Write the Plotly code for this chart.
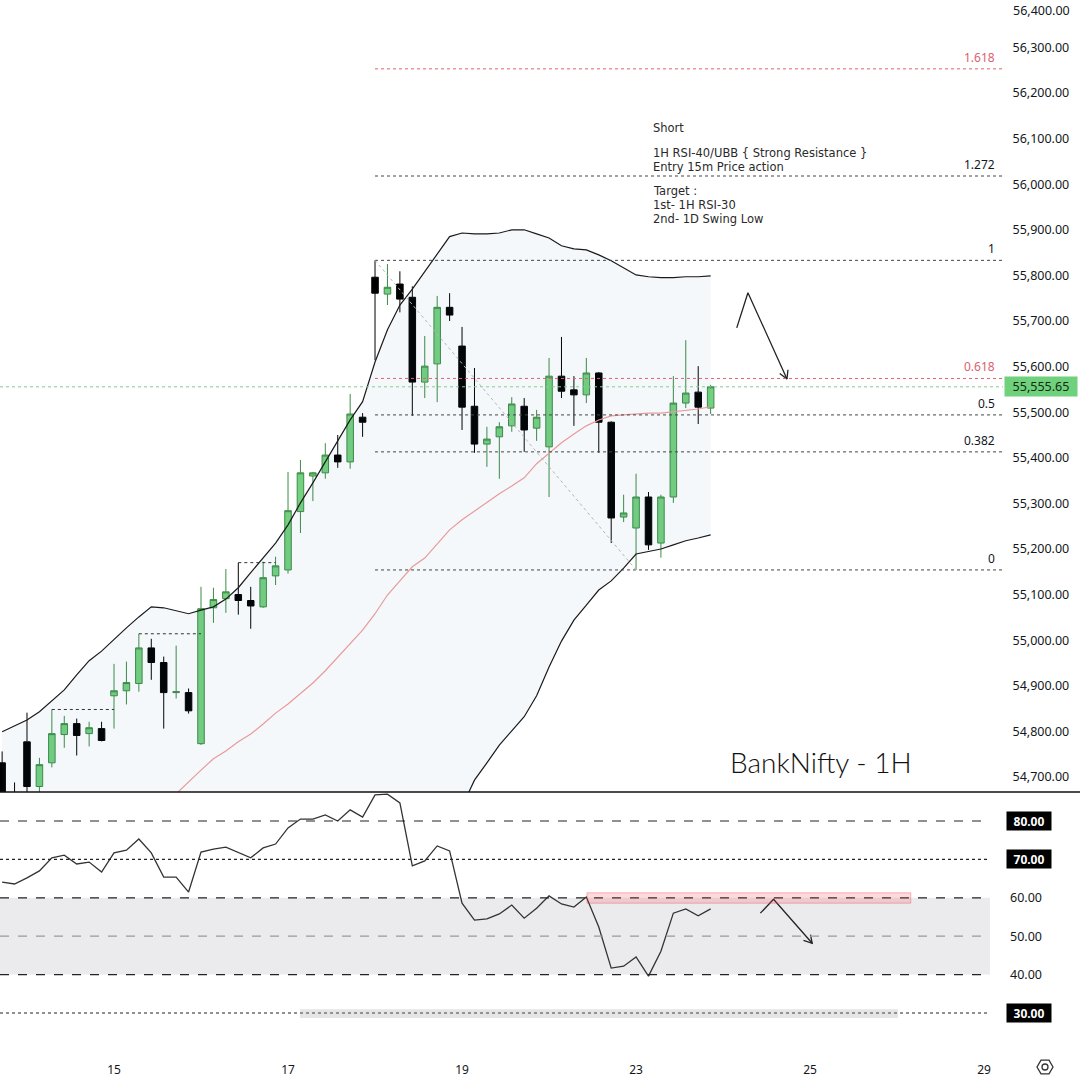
import plotly.graph_objects as go

# hourly bars, index 0 = first bar of the 15th
bars = list(range(-9, 49))
day_ticks = [0, 14, 28, 42, 56, 70]
day_labels = ["15", "17", "19", "23", "25", "29"]

opens = [54731, 54660, 54777, 54679, 54731, 54793, 54817, 54795, 54806,
         54878, 54889, 54905, 54983, 54951, 54885, 54885, 54773, 55071, 55091,
         55100, 55087, 55073, 55141, 55154, 55282, 55360, 55367, 55406, 55391,
         55489, 55796, 55759, 55781, 55752, 55566, 55606, 55730, 55645, 55513,
         55430, 55446, 55470, 55513, 55465, 55424, 55579, 55549, 55538, 55586,
         55478, 55270, 55246, 55314, 55213, 55314, 55520, 55544, 55509]
highs = [54756, 54688, 54841, 54742, 54848, 54834, 54828, 54821, 54821,
         54948, 54953, 55014, 55003, 54964, 54988, 54894, 55117, 55115, 55156,
         55170, 55117, 55172, 55183, 55369, 55395, 55369, 55432, 55450, 55540,
         55498, 55833, 55825, 55809, 55776, 55667, 55755, 55761, 55687, 55597,
         55468, 55478, 55533, 55531, 55505, 55619, 55665, 55579, 55619, 55588,
         55480, 55319, 55365, 55325, 55319, 55579, 55658, 55601, 55560]
lows = [54610, 54600, 54660, 54660, 54721, 54764, 54747, 54767, 54778,
        54806, 54859, 54887, 54913, 54806, 54872, 54839, 54770, 55038, 55060,
        55056, 55025, 55071, 55121, 55146, 55235, 55305, 55354, 55378, 55376,
        55446, 55614, 55735, 55719, 55492, 55531, 55522, 55700, 55461, 55411,
        55380, 55354, 55457, 55413, 55437, 55314, 55531, 55470, 55520, 55411,
        55213, 55259, 55154, 55198, 55181, 55301, 55509, 55474, 55496]
closes = [54640, 54630, 54679, 54727, 54795, 54817, 54791, 54808, 54780,
          54889, 54907, 54983, 54951, 54885, 54887, 54845, 55069, 55089, 55106,
          55087, 55075, 55137, 55163, 55284, 55367, 55367, 55406, 55391, 55496,
          55478, 55761, 55774, 55748, 55566, 55601, 55730, 55713, 55511, 55430,
          55441, 55468, 55518, 55461, 55489, 55579, 55546, 55538, 55586, 55478,
          55268, 55279, 55314, 55209, 55314, 55520, 55542, 55511, 55555.65]

bb_upper = [54799, 54812, 54825, 54843, 54867, 54891, 54924, 54955, 54976,
            55002, 55027, 55051, 55073, 55071, 55064, 55058, 55066, 55073, 55090,
            55115, 55148, 55180, 55213, 55253, 55301, 55345, 55391, 55439, 55483,
            55523, 55610, 55681, 55735, 55770, 55808, 55845, 55885, 55893, 55891,
            55891, 55893, 55900, 55900, 55891, 55882, 55865, 55858, 55856, 55845,
            55832, 55817, 55801, 55797, 55795, 55795, 55797, 55797, 55799]
bb_mid = [54420, 54430, 54440, 54452, 54466, 54480, 54495, 54510, 54525,
          54545, 54565, 54590, 54612, 54637, 54663, 54691, 54715, 54740, 54757,
          54777, 54794, 54816, 54840, 54860, 54882, 54906, 54933, 54963, 54994,
          55022, 55058, 55099, 55130, 55161, 55180, 55211, 55242, 55264, 55283,
          55303, 55321, 55338, 55356, 55387, 55411, 55433, 55452, 55470, 55483,
          55492, 55494, 55496, 55498, 55498, 55501, 55503, 55507, 55512]
bb_lower = [54041, 54048, 54055, 54061, 54063, 54067, 54066, 54065, 54074,
            54089, 54101, 54129, 54151, 54201, 54262, 54324, 54364, 54407, 54424,
            54439, 54440, 54452, 54467, 54467, 54463, 54467, 54475, 54487, 54505,
            54521, 54506, 54517, 54525, 54552, 54552, 54577, 54599, 54635, 54693,
            54731, 54770, 54801, 54832, 54878, 54941, 54998, 55044, 55077, 55110,
            55130, 55158, 55189, 55194, 55200, 55209, 55218, 55224, 55231]

rsi = [64.1, 63.6, 65.2, 67.0, 70.4, 71.1, 68.8, 69.3, 66.7,
       71.7, 72.4, 75.3, 71.7, 65.4, 65.4, 61.5, 71.9, 72.7, 73.2,
       71.7, 70.4, 73.0, 74.0, 78.2, 80.5, 80.5, 81.6, 80.0, 82.9,
       81.0, 86.8, 87.0, 84.7, 68.3, 69.6, 73.5, 72.2, 58.6, 54.2,
       54.5, 55.8, 58.1, 54.7, 57.3, 60.5, 58.4, 57.6, 60.2, 52.4,
       41.7, 42.2, 44.6, 39.6, 46.1, 56.0, 57.1, 55.3, 57.1]

last_price = 55555.65
price_ticks = [54700, 54800, 54900, 55000, 55100, 55200, 55300, 55400, 55500,
               55600, 55700, 55800, 55900, 56000, 56100, 56200, 56300]
top_tick = 56400

# fib retracement drawn from the 18th high to the 23rd low
fib_ratios = ["1.618", "1.272", "1", "0.618", "0.5", "0.382", "0"]
fib_prices = [56253, 56018, 55833, 55574, 55494, 55413, 55154]
fib_colors = ["#e06070", "#444444", "#444444", "#e06070", "#444444", "#444444", "#444444"]
fib_start = 21
fib_end = 42

# short dotted swing-high markers (start bar, end bar, price)
swing_marks = [(-5, 0, 54848), (2, 7, 55014), (10, 13, 55170)]

rsi_levels = [80, 70, 60, 50, 40, 30]
rsi_dash = ["dash", "dot", "dash", "dash", "dash", "dot"]
rsi_boxed = [True, True, False, False, False, True]

note_lines = ["Short", "1H RSI-40/UBB { Strong Resistance }", "Entry 15m Price action",
              "Target :", "1st- 1H RSI-30", "2nd- 1D Swing Low"]
note_rows = [128, 153, 167, 191, 205, 219]

# hand-drawn arrows (bar, value)
arrow_main = [(50.1, 55685), (51.0, 55762), (54.14, 55573)]
arrow_main_head = [(54.22, 55593), (54.14, 55573), (53.56, 55585)]
arrow_rsi = [(52.0, 56.0), (53.06, 59.6), (56.17, 48.15)]
arrow_rsi_head = [(56.03, 50.4), (56.17, 48.15), (55.47, 48.9)]

X_RANGE = [-9.171, 71.52]
SPLIT = 0.23846
TXT = "#131722"
FONT = "Noto Sans"

fig = go.Figure()

fig.add_trace(go.Scatter(x=bars, y=bb_upper, mode="lines", xaxis="x", yaxis="y2",
                         line=dict(color="#1a1a1a", width=1.2), hoverinfo="skip"))
fig.add_trace(go.Scatter(x=bars, y=bb_lower, mode="lines", xaxis="x", yaxis="y2",
                         line=dict(color="#1a1a1a", width=1.2), fill="tonexty",
                         fillcolor="rgba(60,120,180,0.05)", hoverinfo="skip"))
fig.add_trace(go.Scatter(x=bars, y=bb_mid, mode="lines", xaxis="x", yaxis="y2",
                         line=dict(color="#e89a9a", width=1.2), hoverinfo="skip"))

fig.add_trace(
    go.Candlestick(
        x=bars,
        open=opens,
        high=highs,
        low=lows,
        close=closes,
        xaxis="x",
        yaxis="y2",
        whiskerwidth=0,
        increasing=dict(line=dict(color="#3d8b46", width=1), fillcolor="#74d17f"),
        decreasing=dict(line=dict(color="#000000", width=1), fillcolor="#000000"),
        hoverinfo="skip",
    )
)

fig.add_trace(go.Scatter(x=bars, y=rsi, mode="lines", xaxis="x", yaxis="y",
                         line=dict(color="#333333", width=1.3), hoverinfo="skip"))

for pts in [arrow_main, arrow_main_head]:
    fig.add_trace(go.Scatter(x=[p[0] for p in pts], y=[p[1] for p in pts], mode="lines",
                             xaxis="x", yaxis="y2", line=dict(color="#222222", width=1.3),
                             hoverinfo="skip"))
for pts in [arrow_rsi, arrow_rsi_head]:
    fig.add_trace(go.Scatter(x=[p[0] for p in pts], y=[p[1] for p in pts], mode="lines",
                             xaxis="x", yaxis="y", line=dict(color="#222222", width=1.3),
                             hoverinfo="skip"))

shapes = []
annotations = []

# RSI panel: 40-60 band, level lines, zones
shapes.append(dict(type="rect", xref="paper", yref="y", x0=0, x1=0.987, y0=40, y1=60,
                   fillcolor="rgba(120,123,134,0.15)", line=dict(width=0), layer="below"))
for lvl, dash in zip(rsi_levels, rsi_dash):
    col = "#9a9a9a" if lvl == 50 else "#222222"
    shapes.append(dict(type="line", xref="paper", yref="y", x0=0, x1=0.987, y0=lvl, y1=lvl,
                       line=dict(color=col, width=1.2, dash=dash)))
shapes.append(dict(type="rect", xref="x", yref="y", x0=38.05, x1=64.1, y0=58.6, y1=61.3,
                   fillcolor="rgba(242,54,69,0.18)", line=dict(color="rgba(242,54,69,0.35)", width=1)))
shapes.append(dict(type="rect", xref="x", yref="y", x0=14.96, x1=63.07, y0=28.7, y1=31.0,
                   fillcolor="rgba(150,150,150,0.25)", line=dict(width=0)))

# main panel drawings
shapes.append(dict(type="line", xref="paper", yref="y2", x0=0, x1=1, y0=last_price, y1=last_price,
                   line=dict(color="#7fcf8a", width=1, dash="dot")))
for price, col in zip(fib_prices, fib_colors):
    shapes.append(dict(type="line", xref="x", yref="y2", x0=fib_start, x1=X_RANGE[1],
                       y0=price, y1=price, line=dict(color=col, width=1, dash="dot")))
shapes.append(dict(type="line", xref="x", yref="y2", x0=fib_start, x1=fib_end,
                   y0=fib_prices[2], y1=fib_prices[6],
                   line=dict(color="#b5b5b5", width=1, dash="dot")))
for x0, x1, price in swing_marks:
    shapes.append(dict(type="line", xref="x", yref="y2", x0=x0, x1=x1, y0=price, y1=price,
                       line=dict(color="#333333", width=1, dash="dot")))

# panel separator
shapes.append(dict(type="line", xref="paper", yref="paper", x0=0, x1=1.08, y0=SPLIT, y1=SPLIT,
                   line=dict(color="#111111", width=1.5)))

# settings icon
cx, cy = 1045 / 1003, 1 - 1067 / 1040
rx, ry = 8 / 1003, 8 / 1040
hexpath = (f"M {cx + rx} {cy} L {cx + rx / 2} {cy + 0.866 * ry} L {cx - rx / 2} {cy + 0.866 * ry} "
           f"L {cx - rx} {cy} L {cx - rx / 2} {cy - 0.866 * ry} L {cx + rx / 2} {cy - 0.866 * ry} Z")
shapes.append(dict(type="path", xref="paper", yref="paper", path=hexpath,
                   line=dict(color="#333333", width=1.3)))
shapes.append(dict(type="circle", xref="paper", yref="paper",
                   x0=cx - 3 / 1003, x1=cx + 3 / 1003, y0=cy - 3 / 1040, y1=cy + 3 / 1040,
                   line=dict(color="#333333", width=1.3)))

for label, price, col in zip(fib_ratios, fib_prices, fib_colors):
    annotations.append(dict(xref="paper", yref="y2", x=0.994, y=price, text=label,
                            showarrow=False, xanchor="right", yanchor="bottom", yshift=1,
                            font=dict(family=FONT, size=12, color=TXT if col == "#444444" else col)))

for line, row in zip(note_lines, note_rows):
    annotations.append(dict(xref="paper", yref="paper", x=652 / 1003, y=1 - row / 1040,
                            text=line, showarrow=False, xanchor="left", yanchor="middle",
                            borderpad=0,
                            font=dict(family="DejaVu Sans", size=11.5, color="#2a2a2a")))

annotations.append(dict(xref="paper", yref="paper", x=728 / 1003, y=1 - 762 / 1040,
                        text="BankNifty - 1H", showarrow=False, xanchor="left", yanchor="middle",
                        font=dict(family="Lato", size=28, color="#111111", weight=300)))

# top price label, kept just inside the frame
annotations.append(dict(xref="paper", yref="paper", x=1012 / 1003, y=1, yshift=-1,
                        text=f"{top_tick:,.2f}", showarrow=False, xanchor="left",
                        yanchor="top", borderpad=0,
                        font=dict(family=FONT, size=12.5, color=TXT)))

annotations.append(dict(xref="paper", yref="y2", x=1004 / 1003, y=last_price,
                        text=f"{last_price:,.2f}", showarrow=False, xanchor="left",
                        yanchor="middle", width=70, height=17, bgcolor="#6fd17c",
                        font=dict(family=FONT, size=12.5, color="#102a12")))

for lvl, boxed in zip(rsi_levels, rsi_boxed):
    if boxed:
        annotations.append(dict(xref="paper", yref="y", x=1006 / 1003, y=lvl,
                                text=f"<b>{lvl:.2f}</b>", showarrow=False, xanchor="left",
                                yanchor="middle", width=42, height=16, bgcolor="#000000",
                                font=dict(family=FONT, size=12, color="#ffffff")))
    else:
        annotations.append(dict(xref="paper", yref="y", x=1008 / 1003, y=lvl,
                                text=f"{lvl:.2f}", showarrow=False, xanchor="left",
                                yanchor="middle",
                                font=dict(family=FONT, size=12.5, color=TXT)))

fig.update_layout(
    width=1080,
    height=1080,
    margin=dict(l=0, r=77, t=0, b=40),
    paper_bgcolor="white",
    plot_bgcolor="white",
    showlegend=False,
    boxgap=0.25,
    font=dict(family=FONT, size=12, color=TXT),
    shapes=shapes,
    annotations=annotations,
    xaxis=dict(
        domain=[0, 1],
        range=X_RANGE,
        anchor="y",
        tickvals=day_ticks,
        ticktext=day_labels,
        ticks="outside",
        ticklen=19,
        tickcolor="rgba(0,0,0,0)",
        showgrid=False,
        zeroline=False,
        showline=False,
        rangeslider=dict(visible=False),
        tickfont=dict(family=FONT, size=12, color=TXT),
    ),
    yaxis=dict(
        domain=[0, SPLIT],
        range=[22.97, 87.55],
        anchor="x",
        showticklabels=False,
        showgrid=False,
        zeroline=False,
    ),
    yaxis2=dict(
        domain=[SPLIT, 1],
        range=[54667, 56404],
        anchor="x",
        side="right",
        tickvals=price_ticks,
        ticktext=[f"{p:,.2f}" for p in price_ticks],
        ticks="outside",
        ticklen=6,
        tickcolor="rgba(0,0,0,0)",
        showgrid=False,
        zeroline=False,
        tickfont=dict(family=FONT, size=12.5, color=TXT),
    ),
)

fig.write_html(
    "out.html",
    config={"displayModeBar": False},
    post_script="document.body.style.margin='0';document.body.style.padding='0';",
)
